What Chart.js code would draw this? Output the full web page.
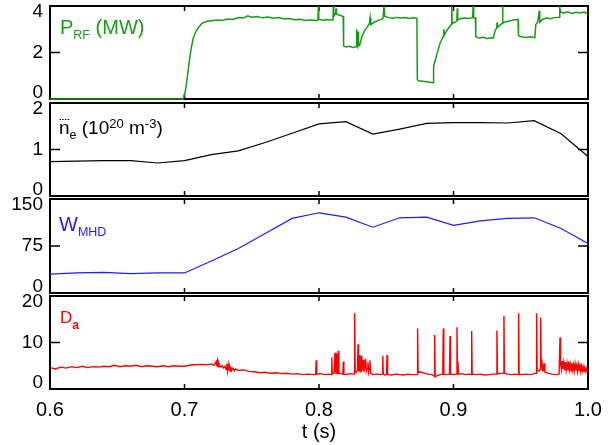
<!DOCTYPE html>
<html>
<head>
<meta charset="utf-8">
<script src="https://cdn.jsdelivr.net/npm/chart.js@4"></script>
<style>
body { margin: 0; background: #fff; }
#wrap { position: relative; width: 613px; height: 445px; }
#wrap canvas { position: absolute; left: 0; top: 0; }
</style>
</head>
<body>
<div id="wrap">
<canvas id="prf" width="613" height="445"></canvas>
<canvas id="ne" width="613" height="445"></canvas>
<canvas id="wmhd" width="613" height="445"></canvas>
<canvas id="da" width="613" height="445"></canvas>
</div>
<script>
// time axis (s)
const tMin = 0.6, tMax = 1.0;
const tMarks = [0.7, 0.8, 0.9];

// RF power (MW), [t, P]
const prfTrace = [
  [0.600,0],[0.650,0],[0.699,0],[0.7005,0.3],[0.702,0.9],[0.7035,1.6],[0.705,2.2],[0.7065,2.6],
  [0.708,2.85],[0.710,3.05],[0.713,3.25],[0.716,3.33],[0.720,3.37],[0.724,3.40],[0.728,3.38],
  [0.732,3.44],[0.736,3.42],[0.740,3.50],[0.744,3.48],[0.747,3.58],[0.750,3.52],[0.754,3.55],
  [0.758,3.49],[0.762,3.53],[0.766,3.47],[0.770,3.50],[0.774,3.44],[0.778,3.46],[0.782,3.41],
  [0.786,3.43],[0.790,3.38],[0.794,3.40],[0.798,3.38],[0.7992,3.40],[0.7995,4.0],[0.7998,3.42],
  [0.803,3.39],[0.806,3.42],[0.809,3.40],[0.8104,3.41],[0.8107,4.0],[0.811,3.55],[0.8124,3.7],
  [0.8127,3.9],[0.813,3.65],[0.8155,3.6],[0.818,3.55],[0.8183,2.28],[0.820,2.24],[0.8225,2.27],
  [0.825,2.22],[0.8277,2.25],[0.828,3.0],[0.8284,2.3],[0.8288,2.25],[0.829,2.9],[0.8294,2.35],
  [0.8302,2.3],[0.832,2.7],[0.834,2.95],[0.836,3.1],[0.8375,3.25],[0.838,3.5],[0.8385,3.2],
  [0.841,3.3],[0.844,3.38],[0.8475,3.45],[0.8483,4.0],[0.849,3.55],[0.852,3.50],[0.855,3.47],
  [0.858,3.51],[0.861,3.48],[0.864,3.50],[0.867,3.46],[0.870,3.49],[0.8728,3.47],[0.8731,0.85],
  [0.874,0.78],[0.877,0.76],[0.880,0.74],[0.8825,0.72],[0.8848,0.70],[0.8852,1.4],[0.8875,1.9],
  [0.890,2.4],[0.8925,2.7],[0.8928,3.0],[0.8932,2.75],[0.895,2.95],[0.8984,3.2],[0.8987,4.0],
  [0.899,3.25],[0.901,3.3],[0.9025,3.35],[0.9028,3.9],[0.9031,3.4],[0.905,3.45],[0.908,3.48],
  [0.911,3.46],[0.9142,3.5],[0.9146,4.0],[0.915,3.5],[0.9163,3.5],[0.9166,2.68],[0.919,2.62],
  [0.922,2.65],[0.925,2.6],[0.9285,2.63],[0.9296,2.62],[0.931,2.95],[0.9321,3.05],[0.9324,3.3],
  [0.9327,3.08],[0.935,3.2],[0.9362,3.25],[0.9365,4.0],[0.9368,3.27],[0.940,3.33],[0.9445,3.4],
  [0.948,3.42],[0.9483,2.72],[0.951,2.67],[0.954,2.65],[0.957,2.68],[0.9605,2.64],[0.9612,3.2],
  [0.9625,3.3],[0.9638,3.8],[0.9641,3.3],[0.966,3.42],[0.969,3.48],[0.972,3.45],[0.975,3.5],
  [0.9787,3.52],[0.979,4.0],[0.9795,3.74],[0.982,3.70],[0.985,3.75],[0.988,3.68],[0.991,3.73],
  [0.994,3.70],[0.997,3.74],[1.000,3.66]
];

// line density and stored energy, sampled every 20 ms
const profileTime = [0.60,0.62,0.64,0.66,0.68,0.70,0.72,0.74,0.76,0.78,0.80,0.82,0.84,0.86,0.88,0.90,0.92,0.94,0.96,0.98,1.00];
const neValues = [0.74,0.75,0.76,0.76,0.71,0.76,0.89,0.97,1.15,1.35,1.55,1.60,1.33,1.44,1.56,1.58,1.58,1.57,1.62,1.34,0.85];
const wValues = [30,32,33,31,32,32,51,71,95,119,128,121,105,120,121,108,115,119,120,103,79];

// D-alpha, [t, signal]
const daTrace = [
  [0.600,4.6],[0.604,4.3],[0.608,4.7],[0.612,4.5],[0.616,4.8],[0.620,4.6],[0.624,4.9],[0.628,4.6],
  [0.632,4.8],[0.636,4.7],[0.640,4.9],[0.644,4.8],[0.648,5.1],[0.652,4.8],[0.656,5.0],[0.660,4.9],
  [0.664,5.1],[0.668,4.8],[0.672,5.0],[0.676,4.9],[0.680,4.8],[0.684,5.0],[0.688,4.8],[0.692,5.0],
  [0.696,4.9],[0.700,4.9],[0.704,5.1],[0.708,5.2],[0.712,5.3],[0.716,5.2],[0.720,5.4],[0.722,5.1],
  [0.7235,5.9],[0.724,4.9],[0.7245,6.0],[0.725,4.8],[0.7255,5.5],[0.726,5.0],[0.727,4.7],[0.728,5.0],
  [0.729,4.5],[0.730,4.9],[0.731,4.2],[0.7315,5.4],[0.732,3.9],[0.7325,5.2],[0.733,4.0],[0.7335,4.9],
  [0.734,3.8],[0.7345,4.8],[0.735,4.0],[0.736,4.5],[0.737,3.9],[0.738,4.3],[0.740,4.0],[0.744,4.1],
  [0.748,3.8],[0.752,3.7],[0.756,3.5],[0.760,3.6],[0.764,3.4],[0.768,3.5],[0.772,3.3],[0.776,3.4],
  [0.780,3.2],[0.784,3.3],[0.788,3.1],[0.792,3.2],[0.796,3.1],[0.7975,3.1],[0.7979,6.2],[0.7983,3.2],
  [0.801,3.3],[0.804,3.1],[0.807,3.2],[0.8091,3.1],[0.8095,6.8],[0.8099,3.3],[0.8112,3.4],[0.8119,7.8],
  [0.8124,3.5],[0.8128,3.4],[0.8132,7.7],[0.8136,3.5],[0.8140,3.4],[0.8144,8.2],[0.8148,3.4],[0.816,3.3],
  [0.8177,3.2],[0.8181,5.9],[0.8185,3.2],[0.820,3.1],[0.823,3.3],[0.8261,3.2],[0.8265,16.3],[0.8269,3.9],
  [0.8278,3.6],[0.8286,4.1],[0.829,9.6],[0.8294,3.8],[0.8298,4.4],[0.8302,7.3],[0.8306,3.7],[0.831,4.6],
  [0.8314,7.2],[0.8318,3.8],[0.8322,4.5],[0.8329,6.3],[0.8334,3.7],[0.834,4.6],[0.8347,6.5],[0.8352,3.8],
  [0.8358,4.4],[0.8364,5.8],[0.8369,3.7],[0.8374,4.5],[0.8379,6.2],[0.8384,3.4],[0.840,3.1],[0.843,3.2],
  [0.846,3.1],[0.8470,3.2],[0.8474,7.1],[0.8478,3.2],[0.849,3.0],[0.8502,3.1],[0.8506,7.3],[0.851,3.1],
  [0.854,3.0],[0.857,3.2],[0.860,3.1],[0.863,3.0],[0.866,3.2],[0.869,3.1],[0.8729,3.1],[0.8733,13.0],
  [0.8737,3.5],[0.875,3.7],[0.878,3.4],[0.881,3.2],[0.884,3.1],[0.8856,2.8],[0.886,11.6],[0.8864,2.6],
  [0.888,2.9],[0.890,3.1],[0.8920,3.2],[0.8924,13.0],[0.8928,3.2],[0.895,3.1],[0.8970,3.2],[0.8974,11.4],
  [0.8978,3.2],[0.900,3.1],[0.9022,3.2],[0.9026,13.3],[0.903,3.3],[0.9033,5.9],[0.9037,3.2],[0.906,3.3],
  [0.909,3.1],[0.912,3.2],[0.9131,3.1],[0.9135,12.5],[0.9139,3.2],[0.917,3.1],[0.920,3.2],[0.923,3.0],
  [0.926,3.1],[0.929,3.2],[0.9319,3.2],[0.9323,12.6],[0.9327,3.3],[0.9352,3.3],[0.9371,3.4],[0.9375,15.7],
  [0.9379,3.4],[0.940,3.2],[0.943,3.1],[0.946,3.2],[0.9480,3.1],[0.9484,16.3],[0.9488,3.2],[0.951,3.1],
  [0.954,3.2],[0.957,3.1],[0.960,3.3],[0.9614,3.4],[0.9618,16.3],[0.9622,4.0],[0.9638,3.9],[0.9644,4.2],
  [0.9648,15.4],[0.9652,4.5],[0.9658,5.5],[0.9662,3.8],[0.9666,5.2],[0.967,3.9],[0.9675,5.5],[0.968,3.6],
  [0.970,3.4],[0.973,3.2],[0.976,3.1],[0.9785,3.2],[0.9792,11.1],[0.9796,5.5],[0.9802,4.2],[0.9808,6.0],
  [0.9814,4.3],[0.982,5.7],[0.9826,4.0],[0.9832,5.8],[0.9838,4.1],[0.9844,5.5],[0.985,4.0],[0.9856,5.9],
  [0.9862,4.2],[0.9868,5.3],[0.9874,3.9],[0.988,5.6],[0.9886,4.1],[0.9892,5.2],[0.9898,3.9],[0.9904,5.4],
  [0.991,4.0],[0.9916,5.0],[0.9922,3.8],[0.9928,5.3],[0.9934,4.0],[0.994,5.5],[0.9946,3.8],[0.9952,4.9],
  [0.9958,3.9],[0.9964,4.8],[0.997,3.7],[0.9976,4.6],[0.9982,3.8],[0.9988,4.4],[0.9994,3.7],[1.000,4.0]
];

const FONT = '"Liberation Sans", Arial, Helvetica, sans-serif';
const GREEN = '#179b17', BLUE = '#1c1cff', RED = '#ff0000';

// box and inward ticks, drawn under the trace
const framePlugin = {
  id: 'frame',
  beforeDatasetsDraw(chart) {
    const ctx = chart.ctx;
    const { left, right, top, bottom } = chart.chartArea;
    const xs = chart.scales.x, ys = chart.scales.y;
    ctx.save();
    ctx.strokeStyle = '#000';
    ctx.lineWidth = 1.5;
    ctx.beginPath();
    ys.ticks.forEach(t => {
      const py = ys.getPixelForValue(t.value);
      ctx.moveTo(left, py); ctx.lineTo(left + 10, py);
      ctx.moveTo(right - 10, py); ctx.lineTo(right, py);
    });
    tMarks.forEach(v => {
      const px = xs.getPixelForValue(v);
      ctx.moveTo(px, top); ctx.lineTo(px, top + 5);
      ctx.moveTo(px, bottom - 5); ctx.lineTo(px, bottom);
    });
    ctx.stroke();
    ctx.lineWidth = 2;
    ctx.strokeRect(left, top, right - left, bottom - top);
    ctx.restore();
  }
};

function drawRich(ctx, x, parts, color) {
  ctx.fillStyle = color;
  ctx.textBaseline = 'alphabetic';
  ctx.textAlign = 'left';
  const spans = [];
  parts.forEach(p => {
    ctx.font = (p.bold ? 'bold ' : '') + p.size + 'px ' + FONT;
    ctx.fillText(p.text, x, p.y);
    const w = ctx.measureText(p.text).width;
    spans.push([x, x + w]);
    x += w;
  });
  return spans;
}

function labelPlugin(draw) {
  return { id: 'panelLabel', afterDraw(chart) { chart.ctx.save(); draw(chart.ctx); chart.ctx.restore(); } };
}

function makePanel(id, cfg) {
  const last = !!cfg.last;
  return new Chart(document.getElementById(id), {
    type: 'line',
    data: {
      datasets: [{
        data: cfg.points.map(p => ({ x: p[0], y: p[1] })),
        borderColor: cfg.color,
        borderWidth: cfg.width,
        pointRadius: 0,
        tension: 0,
        fill: false,
        clip: 2
      }]
    },
    options: {
      responsive: false,
      animation: false,
      devicePixelRatio: 1,
      layout: { padding: { top: cfg.top, bottom: last ? 0 : 445 - cfg.bottom, left: 0, right: 25 } },
      plugins: { legend: { display: false }, tooltip: { enabled: false } },
      scales: {
        x: {
          type: 'linear',
          min: tMin,
          max: tMax,
          grid: { display: false, drawTicks: false },
          border: { display: false },
          ticks: {
            display: last,
            stepSize: 0.1,
            padding: 9,
            maxRotation: 0,
            color: '#000',
            font: { family: FONT, size: 20 },
            callback: v => v.toFixed(1)
          },
          title: {
            display: last,
            text: 't (s)',
            color: '#000',
            font: { family: FONT, size: 20 },
            padding: { top: 0, bottom: 1 }
          },
          afterFit: s => { s.height = last ? 445 - cfg.bottom : 0; s.paddingLeft = 0; s.paddingRight = 0; }
        },
        y: {
          min: 0,
          max: cfg.max,
          grid: { display: false, drawTicks: false },
          border: { display: false },
          ticks: {
            stepSize: cfg.step,
            autoSkip: false,
            padding: 7,
            color: '#000',
            font: { family: FONT, size: 19, lineHeight: 0.63 },
            // end labels sit slightly inside the panel
            callback: v => v === cfg.max ? ['', String(v)] : (v === 0 ? [String(v), ''] : String(v))
          },
          afterFit: s => { s.width = 50; s.paddingTop = 0; s.paddingBottom = 0; }
        }
      }
    },
    plugins: [framePlugin, labelPlugin(cfg.label)]
  });
}

makePanel('prf', {
  points: prfTrace, color: GREEN, width: 1.5, top: 6, bottom: 99, max: 4, step: 2,
  label: ctx => drawRich(ctx, 60, [
    { text: 'P', size: 20, y: 34 },
    { text: 'RF', size: 12.5, y: 39 },
    { text: ' (MW)', size: 20, y: 34 }
  ], GREEN)
});

makePanel('ne', {
  points: profileTime.map((t, i) => [t, neValues[i]]), color: '#000', width: 1.2, top: 103, bottom: 196, max: 2, step: 1,
  label: ctx => {
    const spans = drawRich(ctx, 59, [
      { text: 'n', size: 19, y: 134 },
      { text: 'e', size: 12.5, y: 139 },
      { text: ' (10', size: 19, y: 134 },
      { text: '20', size: 13, y: 128 },
      { text: ' m', size: 19, y: 134 },
      { text: '-3', size: 13, y: 128 },
      { text: ')', size: 19, y: 134 }
    ], '#000');
    ctx.strokeStyle = '#000';
    ctx.lineWidth = 1;
    ctx.setLineDash([1.5, 1.2]);
    ctx.beginPath();
    ctx.moveTo(spans[0][0] + 0.5, 119.5);
    ctx.lineTo(spans[0][1] - 0.5, 119.5);
    ctx.stroke();
  }
});

makePanel('wmhd', {
  points: profileTime.map((t, i) => [t, wValues[i]]), color: BLUE, width: 1.2, top: 199, bottom: 293, max: 150, step: 75,
  label: ctx => drawRich(ctx, 59, [
    { text: 'W', size: 20, y: 231 },
    { text: 'MHD', size: 12.5, y: 236 }
  ], BLUE)
});

makePanel('da', {
  points: daTrace, color: RED, width: 1.4, top: 296, bottom: 389, max: 20, step: 10, last: true,
  label: ctx => drawRich(ctx, 60, [
    { text: 'D', size: 17, y: 323 },
    { text: 'a', size: 12, y: 329, bold: true }
  ], RED)
});
</script>
</body>
</html>
